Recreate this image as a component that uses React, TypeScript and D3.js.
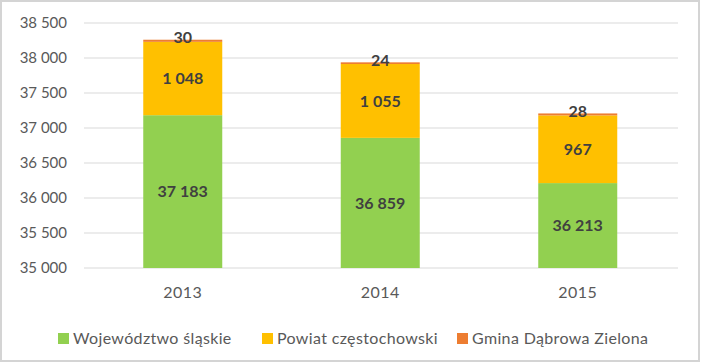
import React, { useEffect, useRef } from "react";
import * as d3 from "d3";

const years = ["2013", "2014", "2015"];
const seriesNames = ["Województwo śląskie", "Powiat częstochowski", "Gmina Dąbrowa Zielona"];
const seriesColors = ["#92D050", "#FFC000", "#ED7D31"];
const wojewodztwo = [37183, 36859, 36213];
const powiat = [1048, 1055, 967];
const gmina = [30, 24, 28];
const yTicks = [35000, 35500, 36000, 36500, 37000, 37500, 38000, 38500];

const locale = d3.formatLocale({ decimal: ",", thousands: "\u00a0", grouping: [3], currency: ["", " zł"] });
const fmt = locale.format(",d");

export default function App() {
  const ref = useRef<SVGSVGElement>(null);

  useEffect(() => {
    const width = 701;
    const height = 363;
    const font = "Lato, 'Open Sans', sans-serif";
    const svg = d3.select(ref.current);
    svg.selectAll("*").remove();

    svg
      .append("rect")
      .attr("x", 1)
      .attr("y", 1)
      .attr("width", width - 3)
      .attr("height", height - 3)
      .attr("fill", "#fff")
      .attr("stroke", "#d4d4d4")
      .attr("stroke-width", 2);

    const x = d3.scaleBand().domain(years).range([84, 676.5]).paddingInner(0.6).paddingOuter(0.3);
    const y = d3.scaleLinear().domain([35000, 38500]).range([268, 23]);

    // gridlines
    svg
      .append("g")
      .selectAll("line")
      .data(yTicks)
      .join("line")
      .attr("x1", 84)
      .attr("x2", 678)
      .attr("y1", (d) => y(d))
      .attr("y2", (d) => y(d))
      .attr("stroke", "#d9d9d9")
      .attr("stroke-width", 1);

    svg
      .append("g")
      .selectAll("text")
      .data(yTicks)
      .join("text")
      .attr("x", 67)
      .attr("y", (d) => y(d))
      .attr("dy", "0.35em")
      .attr("text-anchor", "end")
      .attr("fill", "#595959")
      .style("font-family", font)
      .style("font-size", "15px")
      .text((d) => fmt(d));

    const table = years.map((yr, i) => ({
      year: yr,
      s0: wojewodztwo[i],
      s1: powiat[i],
      s2: gmina[i],
    }));
    const stack = d3.stack<any>().keys(["s0", "s1", "s2"]);
    const layers = stack(table);

    layers.forEach((layer, li) => {
      const g = svg.append("g");
      g.selectAll("rect")
        .data(layer)
        .join("rect")
        .attr("x", (d: any) => x(d.data.year)!)
        .attr("width", x.bandwidth())
        .attr("y", (d) => y(Math.min(d[1], 38500)))
        .attr("height", (d) => y(Math.max(d[0], 35000)) - y(d[1]))
        .attr("fill", seriesColors[li]);

      g.selectAll("text")
        .data(layer)
        .join("text")
        .attr("x", (d: any) => x(d.data.year)! + x.bandwidth() / 2)
        .attr("y", (d) => {
          const mid = (y(Math.max(d[0], 35000)) + y(d[1])) / 2;
          return li === 2 ? mid - 3 : mid;
        })
        .attr("dy", "0.35em")
        .attr("text-anchor", "middle")
        .attr("fill", "#404040")
        .style("font-family", font)
        .style("font-size", "16px")
        .style("font-weight", "bold")
        .text((d) => fmt(d[1] - d[0]));
    });

    svg
      .append("g")
      .selectAll("text")
      .data(years)
      .join("text")
      .attr("x", (d) => x(d)! + x.bandwidth() / 2)
      .attr("y", 292)
      .attr("dy", "0.35em")
      .attr("text-anchor", "middle")
      .attr("fill", "#595959")
      .style("font-family", font)
      .style("font-size", "16px")
      .style("letter-spacing", "0.5px")
      .text((d) => d);

    // legend
    const legendX = [58, 262, 457];
    const legend = svg
      .append("g")
      .selectAll("g")
      .data(seriesNames)
      .join("g")
      .attr("transform", (_, i) => `translate(${legendX[i]}, 338)`);
    legend
      .append("rect")
      .attr("x", 0)
      .attr("y", -5)
      .attr("width", 11)
      .attr("height", 11)
      .attr("fill", (_, i) => seriesColors[i]);
    legend
      .append("text")
      .attr("x", 15)
      .attr("y", 0)
      .attr("dy", "0.35em")
      .attr("fill", "#595959")
      .style("font-family", font)
      .style("font-size", "16px")
      .style("letter-spacing", "0.35px")
      .text((d) => d);
  }, []);

  return (
    <svg
      ref={ref}
      width={701}
      height={363}
      style={{ position: "absolute", left: 0, top: 0 }}
    ></svg>
  );
}
